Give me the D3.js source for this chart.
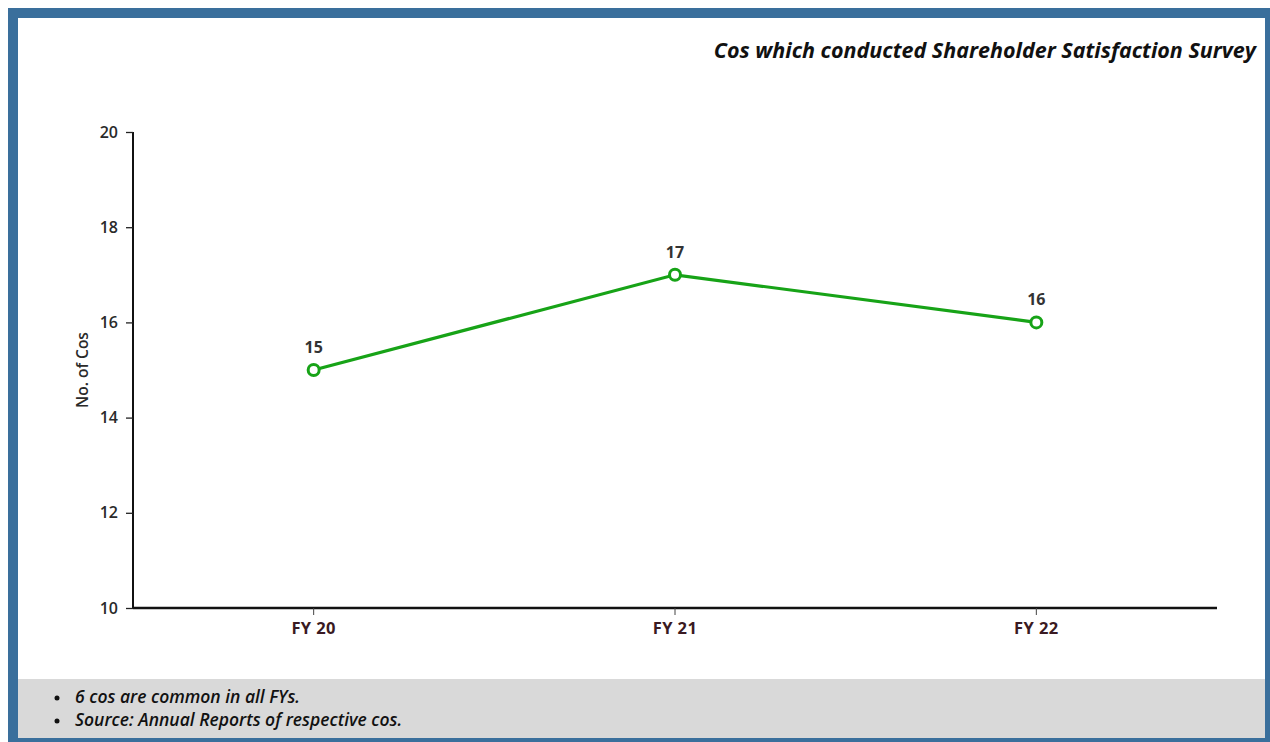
<!DOCTYPE html>
<html>
<head>
<meta charset="utf-8">
<script src="https://cdn.jsdelivr.net/npm/d3@7"></script>
<style>
  html, body { margin: 0; padding: 0; background: #fff; }
  svg { display: block; }
  text { font-family: "Open Sans", Lato, sans-serif; }
</style>
</head>
<body>
<svg id="chart" width="1270" height="742"></svg>
<script>
const categories = ["FY 20", "FY 21", "FY 22"];
const values = [15, 17, 16];
const yTicks = [10, 12, 14, 16, 18, 20];
const title = "Cos which conducted Shareholder Satisfaction Survey";
const yAxisTitle = "No. of Cos";
const notes = ["6 cos are common in all FYs.", "Source: Annual Reports of respective cos."];

(function () {
const svg = d3.select("#chart");
const W = 1270, H = 742;
const FONT = "'Open Sans', Lato, sans-serif";

// frame
svg.append("rect").attr("x", 8).attr("y", 8).attr("width", W - 8).attr("height", H - 8).attr("fill", "#3a6f9c");
svg.append("rect").attr("x", 18).attr("y", 18).attr("width", 1247).attr("height", 720).attr("fill", "#ffffff");
svg.append("rect").attr("x", 18).attr("y", 679).attr("width", 1247).attr("height", 59).attr("fill", "#d9d9d9");

// title
svg.append("text").attr("x", 1256).attr("y", 58).attr("text-anchor", "end")
  .attr("font-size", 21.5).attr("font-weight", 700).attr("font-style", "italic")
  .attr("fill", "#111").text(title);

const mLeft = 133, mRight = 1217, mTop = 132, mBottom = 608;
const x = d3.scaleBand().domain(categories).range([mLeft, mRight]);
const y = d3.scaleLinear().domain([10, 20]).range([mBottom, mTop]);

// y axis
const yAxis = svg.append("g").attr("transform", `translate(${mLeft},0)`)
  .call(d3.axisLeft(y).tickValues(yTicks).tickSize(7).tickPadding(8));
yAxis.select(".domain").attr("stroke", "#111").attr("stroke-width", 2).attr("d", `M0,${mTop}V${mBottom}`);
yAxis.selectAll(".tick line").attr("stroke", "#222").attr("stroke-width", 1.3);
yAxis.selectAll(".tick text").attr("font-size", 16).attr("font-family", FONT).attr("fill", "#2a2a2a").attr("font-weight", 600);

// x axis
const xAxis = svg.append("g").attr("transform", `translate(0,${mBottom})`)
  .call(d3.axisBottom(x).tickSize(7).tickPadding(7));
xAxis.select(".domain").attr("stroke", "#111").attr("stroke-width", 2.5).attr("d", `M${mLeft},0H${mRight}`);
xAxis.selectAll(".tick line").attr("stroke", "#444").attr("stroke-width", 1);
xAxis.selectAll(".tick text").attr("font-size", 16.5).attr("font-family", FONT).attr("fill", "#3a1a22")
  .attr("font-weight", 700).attr("letter-spacing", 0.4);

// y axis title
svg.append("text").attr("transform", `translate(88,${(mTop + mBottom) / 2}) rotate(-90)`)
  .attr("text-anchor", "middle").attr("font-size", 15.5).attr("fill", "#2a2a2a").attr("font-weight", 600)
  .text(yAxisTitle);

const cx = d => x(d) + x.bandwidth() / 2;
const data = categories.map((c, i) => ({ c, v: values[i] }));

svg.append("path").datum(data)
  .attr("fill", "none").attr("stroke", "#17a317").attr("stroke-width", 3.2)
  .attr("d", d3.line().x(d => cx(d.c)).y(d => y(d.v)));

svg.selectAll("circle.pt").data(data).enter().append("circle")
  .attr("class", "pt").attr("cx", d => cx(d.c)).attr("cy", d => y(d.v)).attr("r", 5.5)
  .attr("fill", "#fff").attr("stroke", "#17a317").attr("stroke-width", 3);

svg.selectAll("text.lbl").data(data).enter().append("text")
  .attr("class", "lbl").attr("x", d => cx(d.c)).attr("y", d => y(d.v) - 17)
  .attr("text-anchor", "middle").attr("font-size", 16).attr("font-weight", 700).attr("fill", "#333")
  .text(d => d.v);

// notes
const ng = svg.append("g");
notes.forEach((n, i) => {
  const yy = 703 + i * 23;
  ng.append("circle").attr("cx", 57).attr("cy", yy - 5).attr("r", 2.5).attr("fill", "#111");
  ng.append("text").attr("x", 75).attr("y", yy).attr("font-size", 17.5).attr("font-style", "italic")
    .attr("font-weight", 600).attr("fill", "#111").text(n);
});
})();
</script>
</body>
</html>
